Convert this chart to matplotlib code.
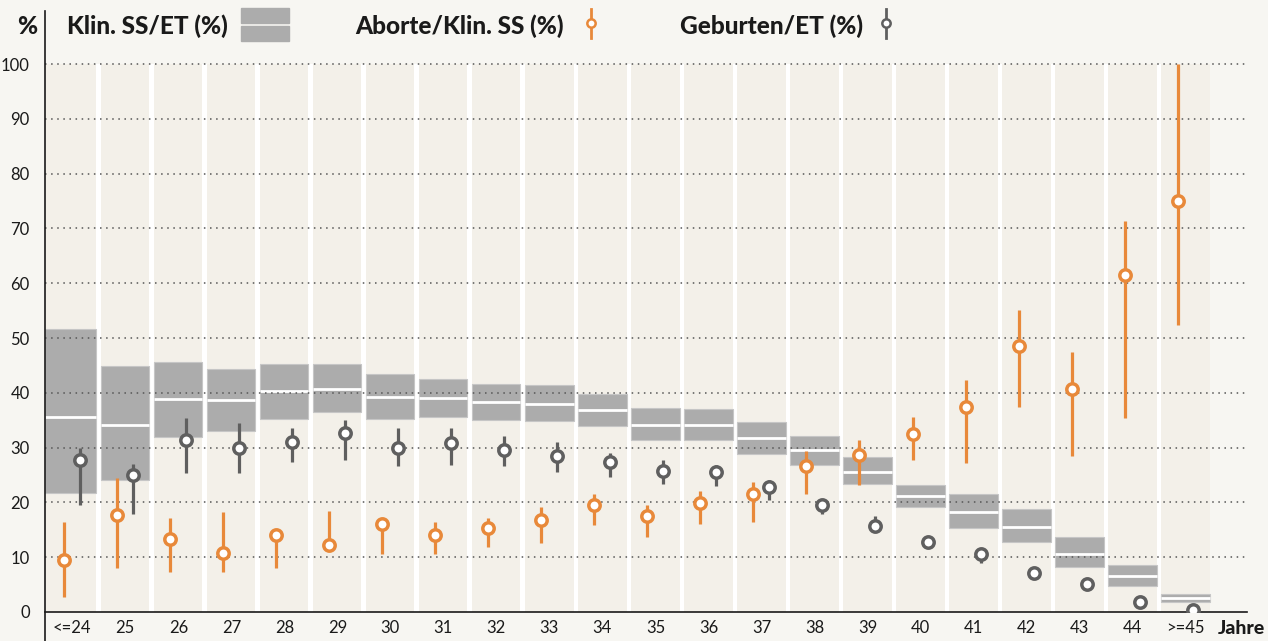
import numpy as np
from matplotlib import pyplot as plt
from matplotlib.patches import Rectangle
from matplotlib.lines import Line2D

# data
cats = ['<=24', '25', '26', '27', '28', '29', '30', '31', '32', '33', '34',
        '35', '36', '37', '38', '39', '40', '41', '42', '43', '44', '>=45']

# Klin. SS/ET (%): value and interval
ss_mid = [35.5, 34.2, 38.9, 38.7, 40.4, 40.7, 39.3, 39.0, 38.4, 38.0, 36.8,
          34.2, 34.2, 31.7, 29.6, 25.5, 21.1, 18.3, 15.5, 10.5, 6.5, 2.6]
ss_lo = [21.7, 24.0, 32.0, 33.1, 35.3, 36.5, 35.3, 35.6, 35.0, 34.9, 33.9,
         31.4, 31.4, 28.8, 26.9, 23.4, 19.1, 15.3, 12.7, 8.3, 4.7, 1.9]
ss_hi = [51.6, 44.9, 45.7, 44.3, 45.3, 45.3, 43.4, 42.5, 41.6, 41.4, 39.8,
         37.3, 37.1, 34.7, 32.2, 28.2, 23.2, 21.5, 18.8, 13.6, 8.6, 3.3]

# Aborte/Klin. SS (%)
ab_val = [9.5, 17.7, 13.4, 10.8, 14.0, 12.3, 16.1, 14.1, 15.3, 16.8, 19.6,
          17.6, 19.9, 21.5, 26.6, 28.6, 32.4, 37.4, 48.5, 40.7, 61.5, 75.0]
ab_lo = [2.7, 8.0, 7.3, 7.3, 8.0, 11.5, 10.5, 10.5, 11.9, 12.6, 15.8,
         13.6, 16.1, 16.4, 21.6, 23.2, 27.7, 27.2, 37.5, 28.5, 35.4, 52.3]
ab_hi = [16.5, 24.5, 17.2, 18.2, 14.8, 18.4, 17.0, 16.4, 17.2, 19.2, 21.6,
         19.6, 22.0, 23.7, 29.3, 31.4, 35.5, 42.3, 55.2, 47.5, 71.4, 100.0]

# Geburten/ET (%)
geb_val = [27.7, 25.0, 31.3, 30.0, 31.0, 32.7, 29.9, 30.8, 29.6, 28.5, 27.4,
           25.8, 25.5, 22.9, 19.6, 15.7, 12.7, 10.6, 7.1, 5.2, 1.9, 0.3]
geb_lo = [19.5, 17.8, 25.4, 25.4, 27.3, 27.8, 26.7, 26.9, 26.7, 25.5, 24.6,
          23.4, 23.0, 20.5, 17.9, 14.9, 12.0, 8.9, 6.5, 4.6, 1.5, 0.1]
geb_hi = [29.9, 27.0, 35.4, 34.5, 33.6, 35.1, 33.5, 33.6, 32.2, 31.0, 29.0,
          27.8, 26.9, 24.0, 20.5, 17.6, 13.5, 11.4, 7.8, 5.8, 2.4, 0.6]

W, H = 1268, 641
BG = '#f7f6f2'
BAND = '#f3f0e9'
BOX = '#acacac'
ORANGE = '#e8893a'
DGRAY = '#5f5f5f'
TXT = '#1a1a1a'

plt.rcParams['font.family'] = ['Lato', 'DejaVu Sans']

fig = plt.figure(figsize=(W / 100, H / 100), dpi=100, facecolor=BG)
ax = fig.add_axes([45 / W, 29 / H, (1247 - 45) / W, 600 / H])
ax.set_facecolor(BG)

x = np.arange(len(cats))
xl, xr = -0.515, 22.16
ax.set_xlim(xl, xr)
ax.set_ylim(0, 109.5)

half = 0.455
lefts = x - half
lefts[0] = xl
widths = x + half - lefts

# white background behind the columns, then the beige columns
ax.bar(xl, 100, width=x[-1] + half - xl, align='edge', color='white', zorder=0)
ax.bar(lefts, 100, width=widths, align='edge', color=BAND, zorder=0.5)

# dotted grid
for g in range(10, 101, 10):
    ax.axhline(g, color='#555555', lw=1.1, ls=(0, (1, 3)), zorder=2)

# Klin. SS/ET boxes
lo = np.array(ss_lo)
hi = np.array(ss_hi)
ax.bar(lefts, hi - lo, bottom=lo, width=widths, align='edge',
       color=BOX, edgecolor='#c6c6c6', lw=0.8, zorder=1.5)
ax.hlines(ss_mid, lefts, lefts + widths, color='white', lw=2, zorder=1.6)

# Aborte/Klin. SS
xo = x - 0.15
ax.vlines(xo, ab_lo, ab_hi, color=ORANGE, lw=2.3, zorder=3)
ax.plot(xo, ab_val, 'o', ms=8.2, mfc='white', mec=ORANGE, mew=2.5, zorder=4)

# Geburten/ET
xg = x + 0.15
ax.vlines(xg, geb_lo, geb_hi, color=DGRAY, lw=2.3, zorder=3)
ax.plot(xg, geb_val, 'o', ms=8.2, mfc='white', mec=DGRAY, mew=2.5, zorder=4)

# axes styling
for s in ['top', 'right', 'left']:
    ax.spines[s].set_visible(False)
ax.spines['bottom'].set_color(TXT)
ax.spines['bottom'].set_linewidth(1.2)
ax.set_yticks(range(0, 101, 10))
ax.set_xticks(x)
ax.set_xticklabels(cats)
ax.tick_params(axis='both', length=0, labelsize=12, colors=TXT)
ax.tick_params(axis='y', pad=11)
ax.tick_params(axis='x', pad=6)

# left axis line, running from top to the bottom edge
fig.add_artist(Line2D([45 / W, 45 / W], [0, 1 - 11 / H], transform=fig.transFigure,
                      color=TXT, lw=1.2))

# header / legend
hdr = dict(va='center', fontsize=17.6, fontweight='black', color=TXT)
fig.text(37 / W, 1 - 26 / H, '%', ha='right', **hdr)
fig.text(67 / W, 1 - 26 / H, 'Klin. SS/ET (%)', ha='left', **hdr)
fig.add_artist(Rectangle((241 / W, 1 - 22.7 / H), 48 / W, 14.4 / H,
                         transform=fig.transFigure, color=BOX))
fig.add_artist(Rectangle((241 / W, 1 - 40.7 / H), 48 / W, 14.7 / H,
                         transform=fig.transFigure, color=BOX))

fig.text(355 / W, 1 - 26 / H, 'Aborte/Klin. SS (%)', ha='left', **hdr)
fig.add_artist(Line2D([591 / W, 591 / W], [1 - 38 / H, 1 - 9 / H],
                      transform=fig.transFigure, color=ORANGE, lw=2))
fig.add_artist(Line2D([591 / W], [1 - 23 / H], transform=fig.transFigure,
                      marker='o', ms=6, mfc='white', mec=ORANGE, mew=1.8))

fig.text(680 / W, 1 - 26 / H, 'Geburten/ET (%)', ha='left', **hdr)
fig.add_artist(Line2D([886 / W, 886 / W], [1 - 38 / H, 1 - 9 / H],
                      transform=fig.transFigure, color=DGRAY, lw=2))
fig.add_artist(Line2D([886 / W], [1 - 23 / H], transform=fig.transFigure,
                      marker='o', ms=6, mfc='white', mec=DGRAY, mew=1.8))

fig.text(1218 / W, 1 - 629 / H, 'Jahre', ha='left', va='center', fontsize=14,
         fontweight='black', color=TXT)

fig.savefig('out.png', dpi=100, facecolor=BG)
